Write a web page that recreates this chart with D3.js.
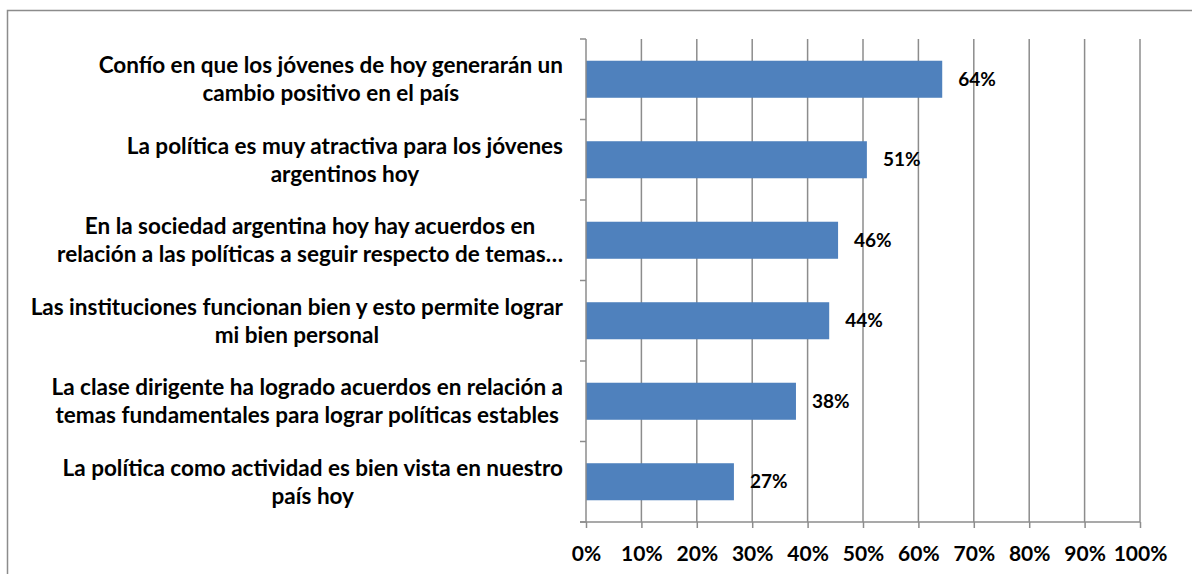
<!DOCTYPE html>
<html>
<head>
<meta charset="utf-8">
<script src="https://cdn.jsdelivr.net/npm/d3@7"></script>
<style>
  body { margin: 0; background: #fff; }
  svg { display: block; }
</style>
</head>
<body>
<div id="chart"></div>
<script>
// categories, top to bottom, already wrapped like the original
var categories = [
  ["Confío en que los jóvenes de hoy generarán un", "cambio positivo en el país"],
  ["La política es muy atractiva para los jóvenes", "argentinos hoy"],
  ["En la sociedad argentina hoy hay acuerdos en", "relación a las políticas a seguir respecto de temas…"],
  ["Las instituciones funcionan bien y esto permite lograr", "mi bien personal"],
  ["La clase dirigente ha logrado acuerdos en relación a", "temas fundamentales para lograr políticas estables"],
  ["La política como actividad es bien vista en nuestro", "país hoy"]
];
var values = [0.643, 0.507, 0.455, 0.439, 0.379, 0.267];
var xTicks = [0, 0.1, 0.2, 0.3, 0.4, 0.5, 0.6, 0.7, 0.8, 0.9, 1];

var W = 1192, H = 574;
var plotLeft = 586, plotRight = 1140, plotTop = 39, plotBottom = 522;
var font = "Lato, 'Open Sans', sans-serif";

var svg = d3.select("#chart").append("svg").attr("width", W).attr("height", H);

// frame around chart area
svg.append("path")
  .attr("d", "M7.5,574 V10.5 H1192")
  .attr("fill", "none")
  .attr("stroke", "#8c8c8c")
  .attr("stroke-width", 1.5);

var x = d3.scaleLinear().domain([0, 1]).range([plotLeft, plotRight]);
var y = d3.scaleBand()
  .domain(d3.range(categories.length))
  .range([plotTop, plotBottom])
  .paddingInner(0.54)
  .paddingOuter(0.27);

// vertical gridlines
svg.append("g")
  .selectAll("line")
  .data(xTicks.slice(1))
  .enter()
  .append("line")
  .attr("x1", function (d) { return x(d); })
  .attr("x2", function (d) { return x(d); })
  .attr("y1", plotTop)
  .attr("y2", plotBottom)
  .attr("stroke", "#8c8c8c")
  .attr("stroke-width", 1.5);

// bars
svg.append("g")
  .selectAll("rect")
  .data(values)
  .enter()
  .append("rect")
  .attr("x", x(0))
  .attr("y", function (d, i) { return y(i); })
  .attr("width", function (d) { return x(d) - x(0); })
  .attr("height", y.bandwidth())
  .attr("fill", "#4f81bd");

// bottom axis
var xAxis = d3.axisBottom(x)
  .tickValues(xTicks)
  .tickFormat(d3.format(".0%"))
  .tickSize(6)
  .tickPadding(18);
var gx = svg.append("g").attr("transform", "translate(0," + plotBottom + ")").call(xAxis);
gx.select(".domain").attr("d", "M" + (plotLeft - 6) + ",0H" + plotRight).attr("stroke", "#8c8c8c").attr("stroke-width", 1.5);
gx.selectAll(".tick line").attr("stroke", "#8c8c8c").attr("stroke-width", 1.5);
gx.selectAll(".tick text")
  .attr("fill", "#000")
  .style("font-family", font)
  .style("font-weight", "bold")
  .style("font-size", "21px");

// left axis: ticks at category boundaries
var step = (plotBottom - plotTop) / categories.length;
var bounds = d3.range(categories.length + 1).map(function (i) { return plotTop + i * step; });
svg.append("line")
  .attr("x1", plotLeft).attr("x2", plotLeft)
  .attr("y1", plotTop).attr("y2", plotBottom)
  .attr("stroke", "#8c8c8c").attr("stroke-width", 1.5);
svg.append("g")
  .selectAll("line")
  .data(bounds)
  .enter()
  .append("line")
  .attr("x1", plotLeft - 6).attr("x2", plotLeft)
  .attr("y1", function (d) { return d; })
  .attr("y2", function (d) { return d; })
  .attr("stroke", "#8c8c8c").attr("stroke-width", 1.5);

// value labels
svg.append("g")
  .selectAll("text")
  .data(values)
  .enter()
  .append("text")
  .attr("x", function (d) { return x(d) + 16; })
  .attr("y", function (d, i) { return y(i) + y.bandwidth() / 2; })
  .attr("dy", "0.35em")
  .text(function (d) { return Math.round(d * 100) + "%"; })
  .style("font-family", font)
  .style("font-weight", "bold")
  .style("font-size", "19px");

// category labels, two centred lines, block right-aligned near the axis
var lineH = 28, labelRight = 563;
var cats = svg.append("g")
  .selectAll("text")
  .data(categories)
  .enter()
  .append("text")
  .style("font-family", font)
  .style("font-weight", "bold")
  .style("font-size", "22.5px")
  .attr("text-anchor", "middle");

cats.each(function (lines, i) {
  var t = d3.select(this);
  var cy = y(i) + y.bandwidth() / 2;
  lines.forEach(function (s, k) {
    t.append("tspan")
      .attr("y", cy + (k - (lines.length - 1) / 2) * lineH)
      .attr("dy", "0.35em")
      .text(s);
  });
  var maxW = 0;
  t.selectAll("tspan").each(function () {
    maxW = Math.max(maxW, this.getComputedTextLength());
  });
  t.selectAll("tspan").attr("x", labelRight - maxW / 2);
});
</script>
</body>
</html>
